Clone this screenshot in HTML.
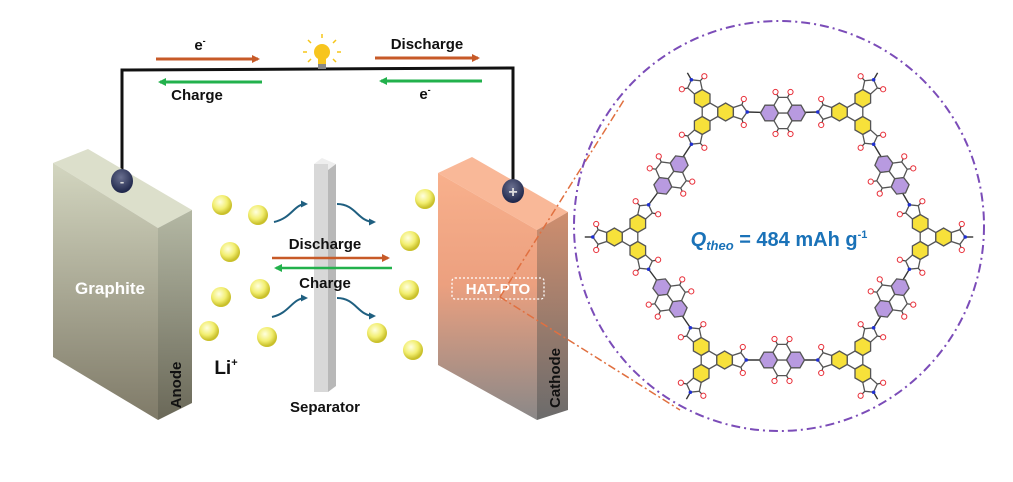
<!DOCTYPE html>
<html><head><meta charset="utf-8">
<style>
html,body{margin:0;padding:0;background:#fff;}
svg{display:block;font-family:"Liberation Sans",Arial,sans-serif;}
.t{font-weight:bold;font-size:15px;fill:#111;}
</style></head>
<body>
<svg id="s" width="1013" height="482" viewBox="0 0 1013 482" xmlns="http://www.w3.org/2000/svg">
<defs>
<linearGradient id="anF" x1="0" y1="0" x2="0" y2="1"><stop offset="0" stop-color="#d3d6c0"/><stop offset="1" stop-color="#7f7a68"/></linearGradient>
<linearGradient id="anS" x1="0" y1="0" x2="0" y2="1"><stop offset="0" stop-color="#b4b8a4"/><stop offset="1" stop-color="#6a6858"/></linearGradient>
<linearGradient id="caF" x1="0" y1="0" x2="0" y2="1"><stop offset="0" stop-color="#f8b08c"/><stop offset="0.45" stop-color="#eca07f"/><stop offset="1" stop-color="#8a8888"/></linearGradient>
<linearGradient id="caS" x1="0" y1="0" x2="0" y2="1"><stop offset="0" stop-color="#cf8e6e"/><stop offset="1" stop-color="#6b6b6b"/></linearGradient>
<radialGradient id="ball" cx="0.4" cy="0.35" r="0.6"><stop offset="0" stop-color="#ffffe0"/><stop offset="0.6" stop-color="#f2ee70"/><stop offset="1" stop-color="#c9c02a"/></radialGradient>
<radialGradient id="term" cx="0.45" cy="0.35" r="0.65"><stop offset="0" stop-color="#6a7090"/><stop offset="1" stop-color="#1c2448"/></radialGradient>
<marker id="ao" markerWidth="8" markerHeight="8" refX="6" refY="4" orient="auto" markerUnits="userSpaceOnUse"><path d="M0,0 L8,4 L0,8 z" fill="#c75a28"/></marker>
<marker id="ag" markerWidth="8" markerHeight="8" refX="6" refY="4" orient="auto" markerUnits="userSpaceOnUse"><path d="M0,0 L8,4 L0,8 z" fill="#22b14c"/></marker>
<marker id="ab" markerWidth="7" markerHeight="7" refX="5" refY="3.5" orient="auto" markerUnits="userSpaceOnUse"><path d="M0,0 L7,3.5 L0,7 z" fill="#1f5f80"/></marker>
</defs>

<polyline points="122,183 122,70 513,68 513,190" fill="none" stroke="#111" stroke-width="3"/>

<g stroke="#f5c518" stroke-width="1.5">
<line x1="322" y1="34" x2="322" y2="38"/><line x1="308" y1="40" x2="311" y2="43"/><line x1="336" y1="40" x2="333" y2="43"/>
<line x1="303" y1="52" x2="307" y2="52"/><line x1="341" y1="52" x2="337" y2="52"/>
<line x1="308" y1="62" x2="311" y2="59"/><line x1="336" y1="62" x2="333" y2="59"/>
</g>
<circle cx="322" cy="52" r="8" fill="#f7c51e"/>
<rect x="318" y="57" width="8" height="8" fill="#f7c51e"/>
<rect x="318" y="64" width="8" height="5" fill="#888"/>

<line x1="156" y1="59" x2="258" y2="59" stroke="#c75a28" stroke-width="3" marker-end="url(#ao)"/>
<line x1="262" y1="82" x2="160" y2="82" stroke="#22b14c" stroke-width="3" marker-end="url(#ag)"/>
<line x1="375" y1="58" x2="478" y2="58" stroke="#c75a28" stroke-width="3" marker-end="url(#ao)"/>
<line x1="482" y1="81" x2="381" y2="81" stroke="#22b14c" stroke-width="3" marker-end="url(#ag)"/>
<text class="t" x="200" y="50" text-anchor="middle">e<tspan font-size="9" dy="-6">-</tspan></text>
<text class="t" x="197" y="100" text-anchor="middle">Charge</text>
<text class="t" x="427" y="49" text-anchor="middle">Discharge</text>
<text class="t" x="425" y="99" text-anchor="middle">e<tspan font-size="9" dy="-6">-</tspan></text>

<polygon points="53,163 88,149 192,210 158,228" fill="#dcdfcb"/>
<polygon points="53,163 158,228 158,420 53,357" fill="url(#anF)"/>
<polygon points="158,228 192,210 192,403 158,420" fill="url(#anS)"/>
<text x="110" y="294" text-anchor="middle" font-weight="bold" font-size="17" fill="#fff">Graphite</text>
<text transform="translate(181,385) rotate(-90)" text-anchor="middle" font-weight="bold" font-size="15" fill="#111">Anode</text>
<ellipse cx="122" cy="181" rx="11" ry="12" fill="url(#term)"/>
<text x="122" y="186" text-anchor="middle" font-weight="bold" font-size="13" fill="#ddd">-</text>

<polygon points="438,173 472,157 568,212 537,230" fill="#f9b898"/>
<polygon points="438,173 537,230 537,420 438,365" fill="url(#caF)"/>
<polygon points="537,230 568,212 568,410 537,420" fill="url(#caS)"/>
<rect x="452" y="278" width="92" height="21" rx="3" fill="none" stroke="#fff" stroke-width="1.3" stroke-dasharray="2,2"/>
<text x="498" y="294" text-anchor="middle" font-weight="bold" font-size="15" fill="#fff">HAT-PTO</text>
<text transform="translate(560,378) rotate(-90)" text-anchor="middle" font-weight="bold" font-size="15" fill="#111">Cathode</text>
<ellipse cx="513" cy="191" rx="11" ry="12" fill="url(#term)"/>
<text x="513" y="197" text-anchor="middle" font-weight="bold" font-size="16" fill="#ddd">+</text>

<polygon points="314,164 322,158 336,164 328,170" fill="#eeeeee"/>
<rect x="314" y="164" width="14" height="228" fill="#d8d8d8"/>
<polygon points="328,170 336,164 336,386 328,392" fill="#b8b8b8"/>
<text class="t" x="325" y="412" text-anchor="middle">Separator</text>

<text class="t" x="325" y="249" text-anchor="middle">Discharge</text>
<line x1="272" y1="258" x2="388" y2="258" stroke="#c75a28" stroke-width="2.5" marker-end="url(#ao)"/>
<line x1="392" y1="268" x2="276" y2="268" stroke="#22b14c" stroke-width="2.5" marker-end="url(#ag)"/>
<text class="t" x="325" y="288" text-anchor="middle">Charge</text>

<g fill="none" stroke="#1f5f80" stroke-width="2">
<path d="M274,222 C292,218 294,204 306,204" marker-end="url(#ab)"/>
<path d="M337,204 C356,204 358,222 374,222" marker-end="url(#ab)"/>
<path d="M272,317 C290,313 292,298 306,298" marker-end="url(#ab)"/>
<path d="M337,298 C356,298 358,316 374,316" marker-end="url(#ab)"/>
</g>

<g fill="url(#ball)">
<circle cx="222" cy="205" r="10"/><circle cx="258" cy="215" r="10"/><circle cx="230" cy="252" r="10"/>
<circle cx="260" cy="289" r="10"/><circle cx="221" cy="297" r="10"/><circle cx="209" cy="331" r="10"/>
<circle cx="267" cy="337" r="10"/>
<circle cx="425" cy="199" r="10"/><circle cx="410" cy="241" r="10"/><circle cx="409" cy="290" r="10"/>
<circle cx="377" cy="333" r="10"/><circle cx="413" cy="350" r="10"/>
</g>
<text x="226" y="374" text-anchor="middle" font-weight="bold" font-size="19" fill="#111">Li<tspan font-size="11" dy="-8">+</tspan></text>

<g stroke="#e07040" stroke-width="1.5" stroke-dasharray="8,3,2,3" fill="none">
<line x1="500" y1="297" x2="624" y2="100"/>
<line x1="500" y1="297" x2="680" y2="410"/>
</g>
<circle cx="779" cy="226" r="205" fill="none" stroke="#7b4cb8" stroke-width="2" stroke-dasharray="9,4,2,4"/>

<g id="mol"></g>
<text x="779" y="246" text-anchor="middle" font-weight="bold" font-size="20" fill="#1a72b8"><tspan font-style="italic">Q</tspan><tspan font-style="italic" font-size="13" dy="4">theo</tspan><tspan dy="-4"> = 484 mAh g</tspan><tspan font-size="11" dy="-8">-1</tspan></text>
</svg>
<script>
(function(){
var g=document.getElementById('mol'),NS='http://www.w3.org/2000/svg',r=9;
var bonds=[],polys=[],dec=[];
function P(a){return [Math.cos(a*Math.PI/180),Math.sin(a*Math.PI/180)];}
function hex(cx,cy,va,fill){var p=[];for(var k=0;k<6;k++){var d=P(va+60*k);p.push((cx+r*d[0]).toFixed(1)+','+(cy+r*d[1]).toFixed(1));}polys.push([p.join(' '),fill]);}
function pent(cx,cy,dir){var p=[],R=0.851*r;for(var k=0;k<5;k++){var d=P(dir+72*k);p.push((cx+R*d[0]).toFixed(1)+','+(cy+R*d[1]).toFixed(1));}polys.push([p.join(' '),'#fff']);
 [72,-72].forEach(function(o){var d=P(dir+o);var x1=cx+R*d[0],y1=cy+R*d[1];dec.push(['o',x1,y1,x1+6*d[0],y1+6*d[1]]);});
 var d=P(dir);dec.push(['n',cx+R*d[0],cy+R*d[1]]);}
var pto={};
function PTO(name,cx,cy,phi){var u=P(phi),v=P(phi+90);pto[name]=[cx,cy];
 hex(cx+1.5*r*u[0],cy+1.5*r*u[1],phi,'#b89ae0');hex(cx-1.5*r*u[0],cy-1.5*r*u[1],phi,'#b89ae0');
 [1,-1].forEach(function(s){var mx=cx+s*0.866*r*v[0],my=cy+s*0.866*r*v[1];hex(mx,my,phi,'#fff');
  [-0.5,0.5].forEach(function(t){var bx=mx+t*r*u[0]+0.866*r*s*v[0],by=my+t*r*u[1]+0.866*r*s*v[1];
   dec.push(['o',bx,by,bx+6*(t*u[0]+s*v[0]*0.9),by+6*(t*u[1]+s*v[1]*0.9)]);});});}
function HAT(cx,cy,th,links){hex(cx,cy,th+30,'#fff');
 for(var k=0;k<3;k++){var a=th+120*k,d=P(a),D=1.732*r;var yx=cx+D*d[0],yy=cy+D*d[1];hex(yx,yy,th+30,'#f7e13a');
  var pc=0.866*r+0.688*r;var px=yx+pc*d[0],py=yy+pc*d[1];var tip=0.851*r;var tx=px+tip*d[0],ty=py+tip*d[1];
  var L=links[k];if(L){var c=pto[L];bonds.push([tx,ty,c[0],c[1]]);}else{bonds.push([tx,ty,tx+8*d[0],ty+8*d[1]]);}
  pent(px,py,a);}}
PTO('T',783,113,0);PTO('B',782,360,0);PTO('UL',671,175,127);PTO('UR',892,175,53);PTO('LL',670,298,53);PTO('LR',892,298,127);
HAT(710,112,0,['T','UL',null]);HAT(855,112,180,['T',null,'UR']);
HAT(630,237,180,[null,'UL','LL']);HAT(928,237,0,[null,'LR','UR']);
HAT(709,360,0,['B',null,'LL']);HAT(855,360,180,['B','LR',null]);
function el(n,a){var e=document.createElementNS(NS,n);for(var k in a)e.setAttribute(k,a[k]);g.appendChild(e);return e;}
bonds.forEach(function(b){el('line',{x1:b[0],y1:b[1],x2:b[2],y2:b[3],stroke:'#333','stroke-width':1.4});});
dec.forEach(function(d){if(d[0]=='o'){el('line',{x1:d[1],y1:d[2],x2:d[3],y2:d[4],stroke:'#444','stroke-width':1.2});el('circle',{cx:d[3],cy:d[4],r:2.6,fill:'#fff',stroke:'#e8303a','stroke-width':1});}});
polys.forEach(function(p){el('polygon',{points:p[0],fill:p[1],stroke:'#555','stroke-width':1.3});});
dec.forEach(function(d){if(d[0]=='n'){el('circle',{cx:d[1],cy:d[2],r:1.8,fill:'#2030d0'});}});
})();
</script>
</body></html>
